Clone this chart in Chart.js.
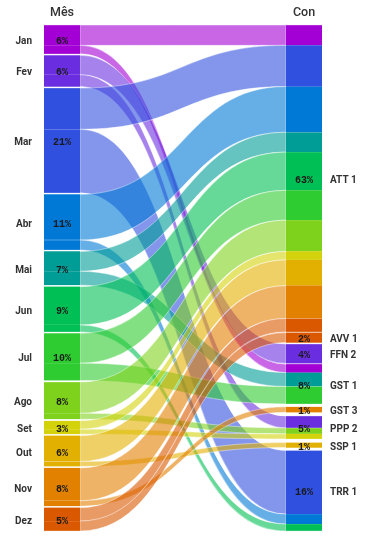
<!DOCTYPE html>
<html>
<head>
<meta charset="utf-8">
<script src="https://cdn.jsdelivr.net/npm/chart.js@4"></script>
<style>
  html, body { margin: 0; padding: 0; background: #fff; }
  #wrap { width: 386px; height: 549px; position: relative; }
</style>
</head>
<body>
<div id="wrap"><canvas id="chart"></canvas></div>
<script>
'use strict';
// categorias
const months = ['Jan', 'Fev', 'Mar', 'Abr', 'Mai', 'Jun', 'Jul', 'Ago', 'Set', 'Out', 'Nov', 'Dez'];
const contas = ['ATT 1', 'AVV 1', 'FFN 2', 'GST 1', 'GST 3', 'PPP 2', 'SSP 1', 'TRR 1'];

// valores por conta, mês a mês (% do total)
const att1 = [4.1, 0, 8.3, 9.2, 4.0, 7.7, 6.0, 6.3, 1.7, 5.2, 6.6, 2.7];
const avv1 = [0, 0, 0, 0, 0, 0, 0, 0, 0, 0, 0, 2.0];
const ffn2 = [0, 3.9, 0, 0, 0, 0, 0, 0, 0, 0, 0, 0];
const gst1 = [1.7, 0, 0, 0, 2.8, 0, 3.5, 0, 0, 0, 0, 0];
const gst3 = [0, 0, 0, 0, 0, 0, 0, 0, 0, 0, 1.1, 0];
const ppp2 = [0, 2.4, 0, 0, 0, 0, 0, 1.2, 1.0, 0, 0, 0];
const ssp1 = [0, 0, 0, 0, 0, 0, 0, 0, 0, 1.0, 0, 0];
const trr1 = [0, 0, 12.8, 2.0, 0, 1.4, 0, 0, 0, 0, 0, 0];
const series = [att1, avv1, ffn2, gst1, gst3, ppp2, ssp1, trr1];

// cores dos meses
const MONTH_COLORS = [
  [163, 0, 214], [106, 46, 224], [48, 80, 224], [0, 120, 214],
  [0, 156, 150], [0, 192, 85], [46, 204, 48], [126, 210, 28],
  [212, 210, 10], [226, 176, 0], [226, 128, 0], [218, 88, 0],
];
const rgba = (c, a) => `rgba(${c[0]},${c[1]},${c[2]},${a})`;

// espaçamento entre nós (unidades de valor)
const NODE_GAP = 0.3;
const RIGHT_GAPS = [0, 0.15, 0.3, 0.15, 0.6, 0.75, 0.75, 0.6];

const total = series.reduce((s, arr) => s + arr.reduce((a, b) => a + b, 0), 0);
const yMax = total + NODE_GAP * (months.length - 1);
const pct = (v) => `${Math.round((v / total) * 100)}%`;

// montar barras (nós) e ligações
const bars = [];
const barColors = [];
const barBorders = [];
const links = [];
const leftNodes = [];
const rightNodes = [];

let y = 0;
months.forEach((m, i) => {
  const start = y;
  series.forEach((arr, j) => {
    if (arr[i] > 0) {
      links.push({ from: i, to: j, value: arr[i], leftBar: bars.length });
      bars.push({ x: 0, y: [y, y + arr[i]] });
      barColors.push(rgba(MONTH_COLORS[i], 1));
      barBorders.push(rgba(MONTH_COLORS[i], 0.45));
      y += arr[i];
    }
  });
  leftNodes.push({ label: m, start, end: y });
  y += NODE_GAP;
});

y = 0;
contas.forEach((c, j) => {
  y += RIGHT_GAPS[j];
  const start = y;
  months.forEach((m, i) => {
    const v = series[j][i];
    if (v > 0) {
      const link = links.find((l) => l.from === i && l.to === j);
      link.rightBar = bars.length;
      bars.push({ x: 1, y: [y, y + v] });
      barColors.push(rgba(MONTH_COLORS[i], 1));
      barBorders.push(rgba(MONTH_COLORS[i], 0.45));
      y += v;
    }
  });
  rightNodes.push({ label: c, start, end: y });
});

// ligações (faixas curvas)
const sankeyLinks = {
  id: 'sankeyLinks',
  beforeDatasetsDraw(chart) {
    const { ctx } = chart;
    const meta = chart.getDatasetMeta(0);
    ctx.save();
    links.forEach((l) => {
      const a = meta.data[l.leftBar];
      const b = meta.data[l.rightBar];
      const x0 = a.x + a.width / 2;
      const x1 = b.x - b.width / 2;
      const xm = (x0 + x1) / 2;
      const ys0 = Math.min(a.y, a.base), ys1 = Math.max(a.y, a.base);
      const yt0 = Math.min(b.y, b.base), yt1 = Math.max(b.y, b.base);
      ctx.beginPath();
      ctx.moveTo(x0, ys0);
      ctx.bezierCurveTo(xm, ys0, xm, yt0, x1, yt0);
      ctx.lineTo(x1, yt1);
      ctx.bezierCurveTo(xm, yt1, xm, ys1, x0, ys1);
      ctx.closePath();
      ctx.fillStyle = rgba(MONTH_COLORS[l.from], 0.6);
      ctx.fill();
      ctx.strokeStyle = 'rgba(255,255,255,0.7)';
      ctx.lineWidth = 0.6;
      ctx.stroke();
    });
    ctx.restore();
  },
};

// textos
const sankeyLabels = {
  id: 'sankeyLabels',
  afterDatasetsDraw(chart) {
    const { ctx } = chart;
    const ys = chart.scales.y;
    const xs = chart.scales.x;
    const lx = xs.getPixelForValue(0);
    const rx = xs.getPixelForValue(1);
    ctx.save();
    ctx.textBaseline = 'middle';

    ctx.fillStyle = '#333';
    ctx.font = '500 12.5px Roboto, sans-serif';
    ctx.textAlign = 'center';
    ctx.fillText('Mês', lx, 13);
    ctx.fillText('Con', rx, 13);

    const drawNodes = (nodes, cx, side) => {
      nodes.forEach((n) => {
        const cy = (ys.getPixelForValue(n.start) + ys.getPixelForValue(n.end)) / 2 + 2;
        ctx.fillStyle = '#333';
        ctx.font = 'bold 10px Roboto, sans-serif';
        if (side === 'left') {
          ctx.textAlign = 'right';
          ctx.fillText(n.label, cx - 30, cy);
        } else {
          ctx.textAlign = 'left';
          ctx.fillText(n.label, cx + 26, cy);
        }
        ctx.fillStyle = '#1a1a1a';
        ctx.font = 'bold 10px "Liberation Mono", monospace';
        ctx.textAlign = 'center';
        ctx.fillText(pct(n.end - n.start), cx, cy);
      });
    };
    drawNodes(leftNodes, lx, 'left');
    drawNodes(rightNodes, rx, 'right');
    ctx.restore();
  },
};

const ctx = document.getElementById('chart');
new Chart(ctx, {
  type: 'bar',
  data: {
    datasets: [
      {
        data: bars,
        backgroundColor: barColors,
        borderColor: barBorders,
        borderWidth: { top: 0.5, bottom: 0.5, left: 0, right: 0 },
        borderSkipped: false,
        barThickness: 36,
        clip: false,
      },
    ],
  },
  options: {
    responsive: true,
    maintainAspectRatio: false,
    animation: false,
    layout: { padding: { left: 62, right: 82, top: 25, bottom: 18 } },
    scales: {
      x: { type: 'linear', display: false, offset: false, min: 0, max: 1 },
      y: { type: 'linear', display: false, reverse: true, min: 0, max: yMax },
    },
    plugins: {
      legend: { display: false },
      tooltip: { enabled: false },
    },
  },
  plugins: [sankeyLinks, sankeyLabels],
});
</script>
</body>
</html>
